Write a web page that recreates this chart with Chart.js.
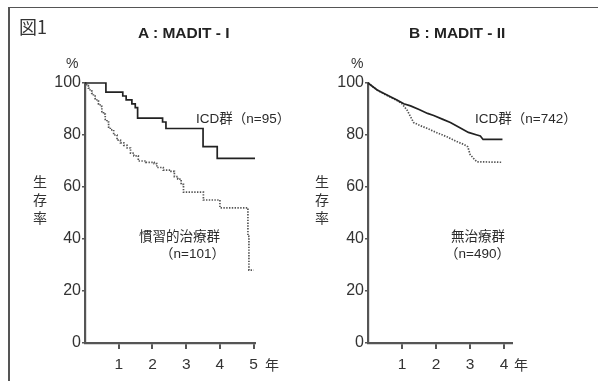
<!DOCTYPE html>
<html><head><meta charset="utf-8">
<script src="https://cdn.jsdelivr.net/npm/chart.js@4"></script>
<style>
html,body{margin:0;padding:0;background:#fff;}
#wrap{position:relative;width:598px;height:381px;overflow:hidden;background:#fff;}
.frame{position:absolute;left:8px;top:7px;width:600px;height:400px;border-left:2px solid #555;border-top:1.5px solid #555;}
canvas{position:absolute;top:0;}
.t{position:absolute;white-space:nowrap;color:#333;font-family:"Liberation Sans","Noto Sans CJK JP",sans-serif;transform:translate(0,-50%);}
.title{font-weight:bold;font-size:15.5px;color:#222;}
.ann{font-size:13.5px;color:#2a2a2a;}
.ax{font-size:15px;color:#333;}
.vert{font-family:"Noto Sans CJK JP",sans-serif;font-size:14px;line-height:18px;color:#333;width:16px;text-align:center;transform:none;}
</style></head>
<body><div id="wrap">
<div class="frame"></div>
<canvas id="cA" width="300" height="381" style="left:0"></canvas>
<canvas id="cB" width="298" height="381" style="left:300px"></canvas>
<div class="t" style="left:19px;top:26px;font-family:'Noto Sans CJK JP';font-size:18px;color:#333">図1</div>
<div class="t title" style="left:138px;top:33px">A : MADIT - I</div>
<div class="t title" style="left:409px;top:33px">B : MADIT - II</div>
<div class="t ax" style="left:66px;top:63px;font-size:14px">%</div>
<div class="t ax" style="left:351px;top:63px;font-size:14px">%</div>
<div class="t vert" style="left:32px;top:172px">生<br>存<br>率</div>
<div class="t vert" style="left:314px;top:172px">生<br>存<br>率</div>
<div class="t ax" style="left:265px;top:364px;font-family:'Noto Sans CJK JP';font-size:14px">年</div>
<div class="t ax" style="left:514px;top:364px;font-family:'Noto Sans CJK JP';font-size:14px">年</div>
<div class="t ann" style="left:196px;top:117px">ICD群（n=95）</div>
<div class="t ann" style="left:139px;top:235px">慣習的治療群</div>
<div class="t ann" style="left:160px;top:252px">（n=101）</div>
<div class="t ann" style="left:475px;top:117px">ICD群（n=742）</div>
<div class="t ann" style="left:451px;top:235px">無治療群</div>
<div class="t ann" style="left:445px;top:252px">（n=490）</div>
</div>
<script>
// Panel A: MADIT-I (years, survival %)
const aIcdT   = [0, 0.62, 1.12, 1.22, 1.39, 1.49, 1.56, 2.30, 2.40, 3.50, 3.92, 5.04];
const aIcdS   = [100, 96.5, 95, 93.5, 92, 90.5, 86.5, 85, 82.5, 75.5, 71, 71];
const aConvT  = [0, 0.05, 0.1, 0.15, 0.2, 0.25, 0.3, 0.35, 0.4, 0.45, 0.5, 0.55, 0.6, 0.65, 0.7, 0.75, 0.85, 0.95, 1.05, 1.15, 1.25, 1.35, 1.45, 1.58, 1.8, 2.05, 2.13, 2.32, 2.55, 2.65, 2.75, 2.85, 2.92, 3.51, 4.0, 4.8, 4.83, 4.86, 5.0];
const aConvS  = [100, 99, 98, 97, 96, 95, 94, 93, 92, 91, 89, 88, 86, 85, 83, 82, 80, 78, 77, 76, 75, 73, 72, 70, 69.5, 69, 67.5, 66.5, 66, 64, 63, 61, 58, 55, 52, 52, 41, 28, 28];
// Panel B: MADIT-II
const bIcdT   = [0, 0.27, 0.5, 0.85, 1.05, 1.25, 1.5, 1.75, 1.93, 2.2, 2.42, 2.7, 2.95, 3.2, 3.3, 3.38, 3.95];
const bIcdS   = [100, 97.3, 95.8, 93.5, 92, 91.2, 89.8, 88.3, 87.5, 86, 84.8, 82.8, 81, 80, 79.6, 78.3, 78.3];
const bNoT    = [0, 0.27, 0.5, 0.85, 1.0, 1.15, 1.34, 1.55, 1.73, 2.0, 2.32, 2.6, 2.83, 2.93, 3.0, 3.1, 3.2, 3.95];
const bNoS    = [100, 97.3, 95.6, 93.3, 92, 89.5, 84.8, 83.5, 82.6, 81, 79.3, 77.5, 76.3, 75.5, 72.5, 71, 69.7, 69.5];
const yTicks  = [0, 20, 40, 60, 80, 100];
const aXTicks = [1, 2, 3, 4, 5];
const bXTicks = [1, 2, 3, 4];

const pts = (T, S) => T.map((t, i) => ({x: t, y: S[i]}));
const font = {family: '"Liberation Sans", Arial, sans-serif', size: 16};
const axisCol = '#555';

function makeChart(id, d1, d2, stepped, xMax, xTicks, yW, padR) {
  return new Chart(document.getElementById(id), {
    type: 'line',
    data: {datasets: [
      {data: d1, borderColor: '#222', borderWidth: 1.7, pointRadius: 0, stepped: stepped, tension: 0, clip: false},
      {data: d2, borderColor: '#555', borderWidth: 1.7, borderDash: [1.4, 1.4], pointRadius: 0, stepped: stepped, tension: 0, clip: false}
    ]},
    options: {
      responsive: false, animation: false, events: [],
      layout: {padding: {left: 0, right: padR, top: 83, bottom: 0}},
      plugins: {legend: {display: false}, tooltip: {enabled: false}},
      scales: {
        x: {type: 'linear', min: 0, max: xMax,
            afterBuildTicks: s => { s.ticks = xTicks.map(v => ({value: v})); },
            afterFit: s => { s.height = 38; },
            border: {display: true, color: axisCol, width: 2.2},
            grid: {display: true, drawOnChartArea: false, drawTicks: true, tickLength: 6, color: axisCol, lineWidth: 2},
            ticks: {font: {family: font.family, size: 15.5}, color: '#333', padding: 6, maxRotation: 0}},
        y: {type: 'linear', min: 0, max: 100,
            afterBuildTicks: s => { s.ticks = yTicks.map(v => ({value: v})); },
            afterFit: s => { s.width = yW; },
            border: {display: true, color: axisCol, width: 2.2},
            grid: {display: true, drawOnChartArea: false, drawTicks: true, tickLength: 3, color: axisCol, lineWidth: 1.5},
            ticks: {font: font, color: '#333', padding: 1}}
      }
    }
  });
}
makeChart('cA', pts(aIcdT, aIcdS), pts(aConvT, aConvS), true, 5.04, aXTicks, 85, 45);
makeChart('cB', pts(bIcdT, bIcdS), pts(bNoT, bNoS), false, 4.23, bXTicks, 68, 86);
</script>
</body></html>
